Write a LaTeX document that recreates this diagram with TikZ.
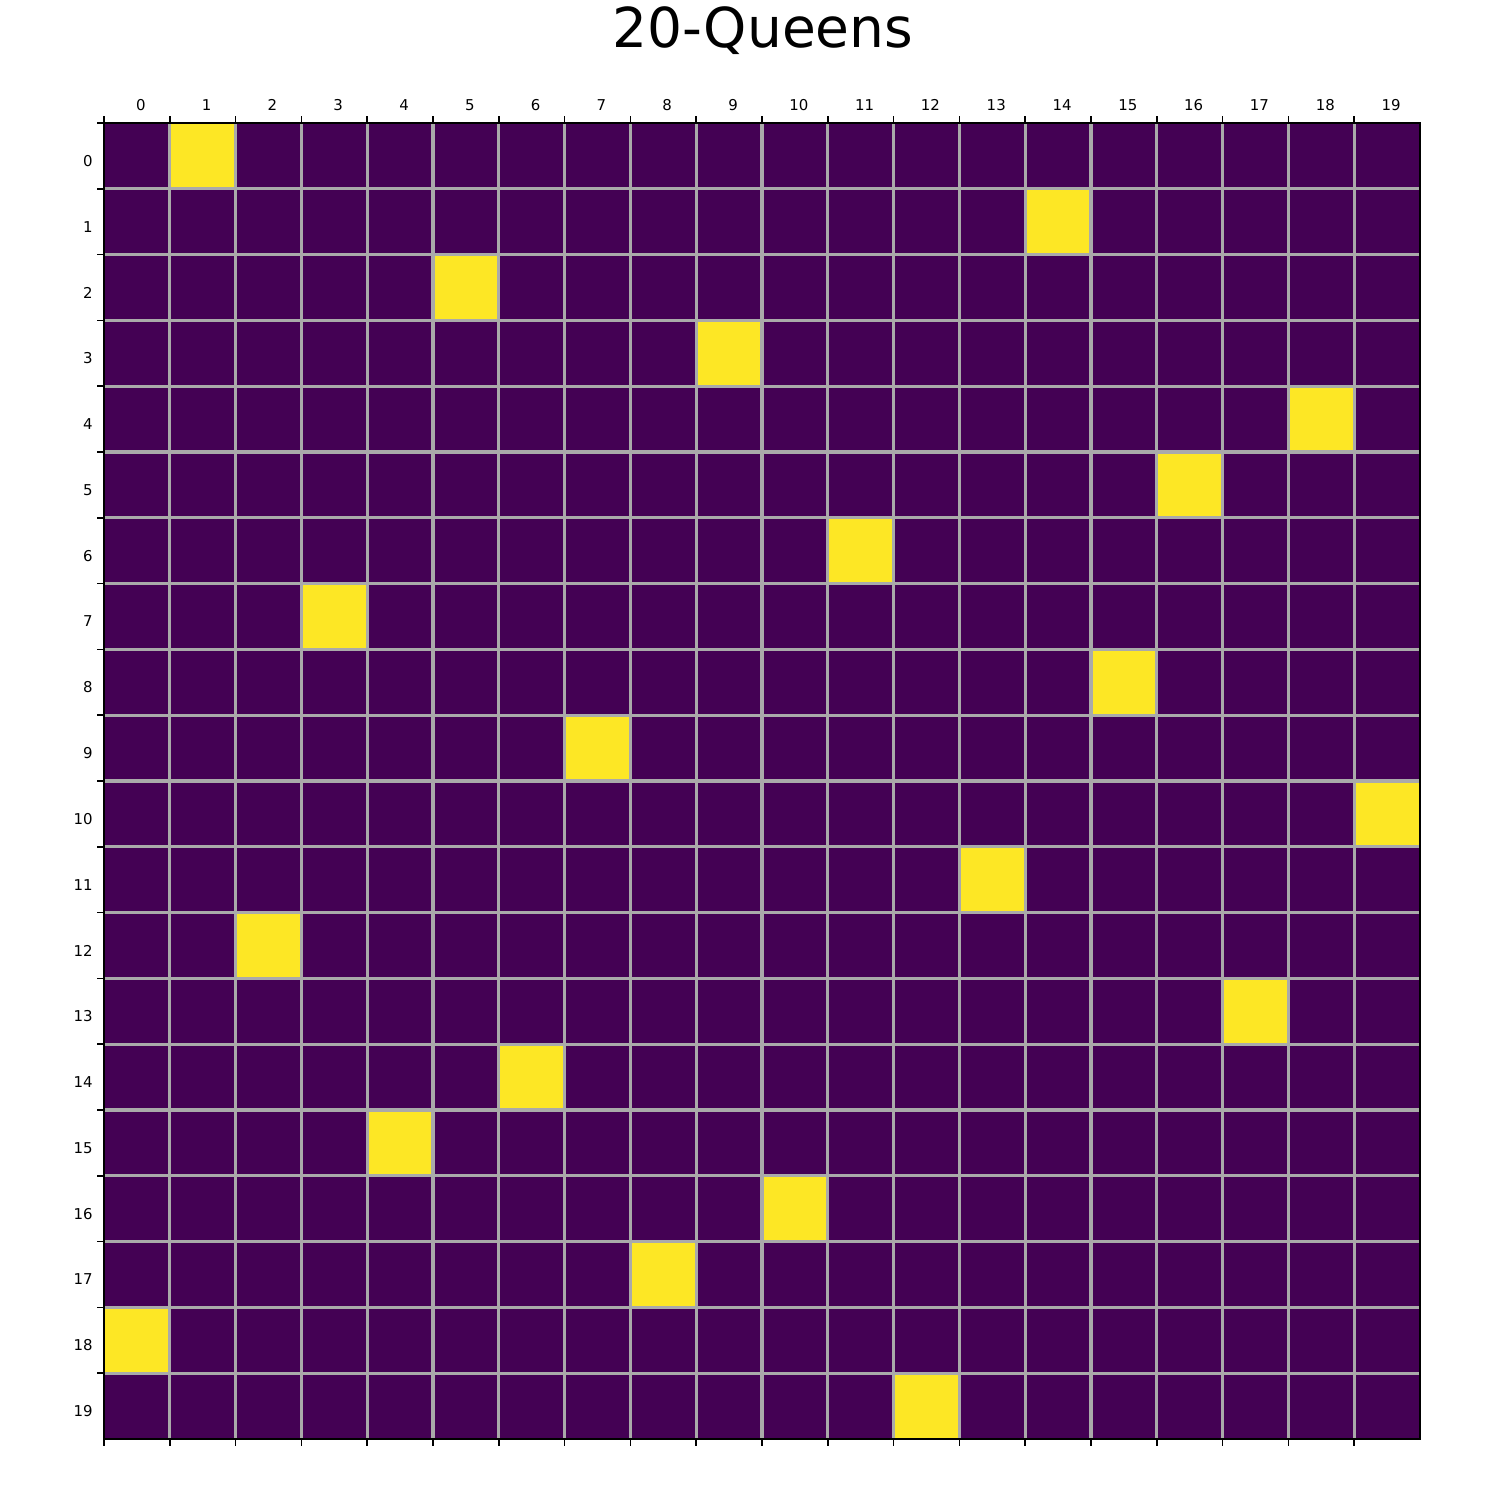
\documentclass[tikz,border=0pt]{standalone}
\usepackage{fontspec}
\setmainfont{DejaVu Sans}
\definecolor{boardbase}{HTML}{440154}
\definecolor{queencell}{HTML}{FDE725}
\definecolor{gridgray}{HTML}{AAAAAA}
\tikzset{
  cell/.style={fill=boardbase, draw=none},
  queen/.style={fill=queencell, draw=none},
  gridline/.style={draw=gridgray, line width=1.5pt},
  frame/.style={draw=black, line width=0.8pt},
  tickmark/.style={draw=black, line width=0.8pt},
  ticklabel/.style={font=\fontsize{7.2}{8.6}\selectfont, inner sep=0pt},
  titletext/.style={font=\fontsize{26.5}{32}\selectfont, inner sep=0pt}
}
\begin{document}
\begin{tikzpicture}[x=1.11422cm, y=-1.11422cm]
    \useasboundingbox (-1.5805,-1.8693) rectangle (21.2158,20.9271);

    % Board and queens
    \fill[cell] (0,0) rectangle (20,20);
    \foreach \r/\c in {0/1,1/14,2/5,3/9,4/18,5/16,6/11,7/3,8/15,9/7,
                       10/19,11/13,12/2,13/17,14/6,15/4,16/10,17/8,18/0,19/12}
        \fill[queen] (\c,\r) rectangle ++(1,1);

    % Grid
    \foreach \k in {1,...,19} {
        \draw[gridline] (\k,0) -- (\k,20);
        \draw[gridline] (0,\k) -- (20,\k);
    }
    \draw[frame] (0,0) rectangle (20,20);

    % Ticks
    \foreach \k in {0,...,19} {
        \draw[tickmark] (\k,0) -- ++(0,-0.111);
        \draw[tickmark] (\k,20) -- ++(0,0.111);
        \draw[tickmark] (0,\k) -- ++(-0.111,0);
    }

    % Labels
    \foreach \k in {0,...,19} {
        \node[ticklabel, anchor=base] (col\k) at (\k+0.56,-0.187) {\k};
        \node[ticklabel, anchor=east] (row\k) at (-0.167,\k+0.576) {\k};
    }
    \node[titletext, anchor=base] (title) at (10.01,-1.144) {20-Queens};
\end{tikzpicture}
\end{document}
